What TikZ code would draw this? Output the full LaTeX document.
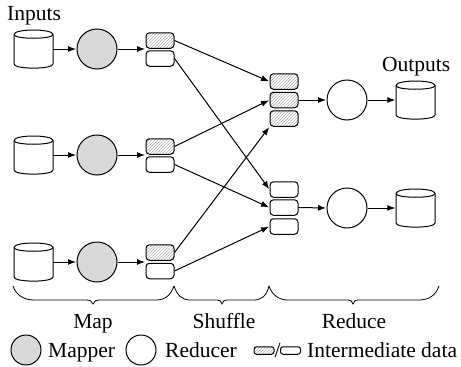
\documentclass[tikz,border=0pt]{standalone}
\usepackage{fontspec}
\setmainfont{Liberation Serif}
\usetikzlibrary{arrows.meta,patterns}
\tikzset{
  ln/.style={line width=1pt,draw=black},
  arr/.style={line width=1pt,draw=black,-{Latex[length=8pt,width=6pt]},shorten >=0.5pt},
  mapper/.style={circle,ln,fill=black!15,minimum size=40pt,inner sep=0pt},
  reducer/.style={circle,ln,fill=white,minimum size=40pt,inner sep=0pt},
  smallm/.style={circle,ln,fill=black!15,minimum size=30pt,inner sep=0pt},
  smallr/.style={circle,ln,fill=white,minimum size=30pt,inner sep=0pt},
  plain/.style={rectangle,rounded corners=3.5pt,ln,fill=white,minimum width=28pt,minimum height=15.5pt,inner sep=0pt},
  hatched/.style={plain,fill=none,preaction={fill=white},pattern=north east lines,pattern color=black!30},
  mini/.style={rectangle,rounded corners=2.5pt,ln,fill=white,minimum width=20pt,minimum height=7.5pt,inner sep=0pt},
  minih/.style={mini,fill=none,preaction={fill=white},pattern=north east lines,pattern color=black!30},
  cylbox/.style={rectangle,minimum width=39pt,minimum height=38pt,inner sep=0pt},
  lab/.style={font=\fontsize{21.5}{23}\selectfont,inner sep=0pt,anchor=base},
  labw/.style={lab,anchor=base west},
  brace/.style={line width=0.8pt,draw=black}
}
\newcommand{\cyl}[3]{%
  \node[cylbox] (#1) at (#2,#3) {};
  \begin{scope}[shift={(#2,#3)}]
    \draw[ln,fill=white] (-19.5,-14.5) .. controls (-19.5,-20.5) and (19.5,-20.5) .. (19.5,-14.5)
      -- (19.5,15) .. controls (19.5,20.5) and (-19.5,20.5) .. (-19.5,15) -- cycle;
    \draw[ln] (-19.5,-14.5) .. controls (-19.5,-9.5) and (19.5,-9.5) .. (19.5,-14.5);
  \end{scope}}
\begin{document}
\begin{tikzpicture}[x=1pt,y=-1pt]
\useasboundingbox (0,0) rectangle (461,367);
\node[labw] (inputs) at (7,20) {Inputs};
\node[labw] (outputs) at (382,71.5) {Outputs};
\cyl{c1}{33.5}{49}
\cyl{c2}{33.5}{155}
\cyl{c3}{33.5}{262}
\node[mapper] (m1) at (97,49) {};
\node[mapper] (m2) at (97,155) {};
\node[mapper] (m3) at (97,262) {};
\node[hatched] (a1) at (160,40.5) {};
\node[plain] (b1) at (160,58.5) {};
\node[hatched] (a2) at (160,146.5) {};
\node[plain] (b2) at (160,164.5) {};
\node[hatched] (a3) at (160,252.5) {};
\node[plain] (b3) at (160,271) {};
\coordinate (g1) at (145.5,49);
\coordinate (g2) at (145.5,155);
\coordinate (g3) at (145.5,262);
\node[hatched] (r1) at (284,81.5) {};
\node[hatched] (r2) at (284,100) {};
\node[hatched] (r3) at (284,118.5) {};
\node[plain] (s1) at (284,189.5) {};
\node[plain] (s2) at (284,207.5) {};
\node[plain] (s3) at (284,226.5) {};
\node[reducer] (e1) at (347,100) {};
\node[reducer] (e2) at (347,208) {};
\cyl{o1}{415.5}{100}
\cyl{o2}{415.5}{208}
\foreach \i in {1,2,3}{
  \draw[arr] (c\i.east) -- (m\i.west);
  \draw[arr] (m\i.east) -- (g\i);
}
\draw[arr] (a1.east) -- (r1.west);
\draw[arr] (b1.east) -- (s1.west);
\draw[arr] (a2.east) -- (r2.west);
\draw[arr] (b2.east) -- (s2.west);
\draw[arr] (a3.east) -- (r3.south west);
\draw[arr] (b3.east) -- (s3.west);
\draw[arr] (r2.east) -- (e1.west);
\draw[arr] (s2.east) -- (e2.west);
\draw[arr] (e1.east) -- (o1.west);
\draw[arr] (e2.east) -- (o2.west);
% braces
\draw[brace] (13,286) .. controls (16,295) and (24,300) .. (34,300) -- (86,300) .. controls (90,300) and (92,301) .. (93,304)
  .. controls (94,301) and (96,300) .. (100,300) -- (156,300) .. controls (165,300) and (171,295) .. (174,286);
\draw[brace] (174,286) .. controls (177,295) and (182,300) .. (190,300) -- (217,300) .. controls (220,300) and (221,301) .. (222,304)
  .. controls (223,301) and (224,300) .. (227,300) -- (254,300) .. controls (262,300) and (267,295) .. (269,286);
\draw[brace] (269,286) .. controls (272,295) and (279,300) .. (288,300) -- (347,300) .. controls (351,300) and (352,301) .. (353,304)
  .. controls (354,301) and (355,300) .. (359,300) -- (419,300) .. controls (429,300) and (436,295) .. (439,286);
\node[lab] (lmap) at (93,328) {Map};
\node[lab] (lshuffle) at (224,328) {Shuffle};
\node[lab] (lreduce) at (354,328) {Reduce};
% legend
\node[smallm] (lm) at (26,350) {};
\node[labw] (lmt) at (48,357) {Mapper};
\node[smallr] (lr) at (141,350) {};
\node[labw] (lrt) at (165,357) {Reducer};
\node[minih] (lh) at (264,350.5) {};
\node[lab] (lsl) at (277.5,357) {/};
\node[mini] (lp) at (290.5,350.5) {};
\node[labw] (lit) at (307,357) {Intermediate data};
\end{tikzpicture}
\end{document}
